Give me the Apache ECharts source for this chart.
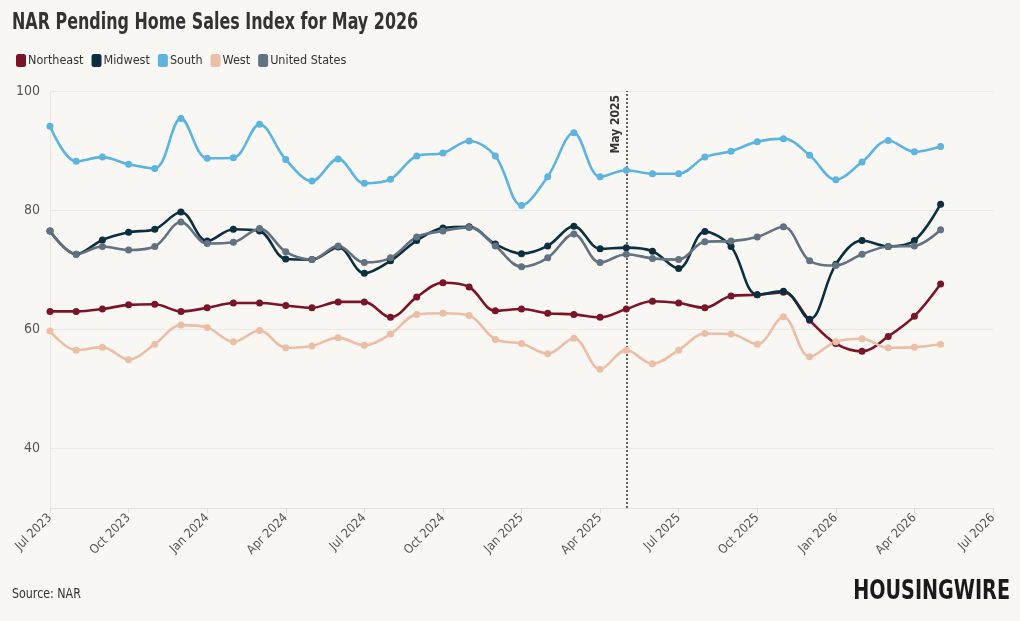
<!DOCTYPE html>
<html>
<head>
<meta charset="utf-8">
<script src="https://cdn.jsdelivr.net/npm/echarts@6/dist/echarts.min.js"></script>
<style>
  html, body { margin: 0; padding: 0; background: #f9f7f4; }
  #chart { width: 1020px; height: 621px; }
</style>
</head>
<body>
<div id="chart"></div>
<script>
// monthly points, Jul 2023 .. May 2026 (index 0 = Jul 2023)
const months = [
  "Jul 2023", "Aug 2023", "Sep 2023", "Oct 2023", "Nov 2023", "Dec 2023",
  "Jan 2024", "Feb 2024", "Mar 2024", "Apr 2024", "May 2024", "Jun 2024",
  "Jul 2024", "Aug 2024", "Sep 2024", "Oct 2024", "Nov 2024", "Dec 2024",
  "Jan 2025", "Feb 2025", "Mar 2025", "Apr 2025", "May 2025", "Jun 2025",
  "Jul 2025", "Aug 2025", "Sep 2025", "Oct 2025", "Nov 2025", "Dec 2025",
  "Jan 2026", "Feb 2026", "Mar 2026", "Apr 2026", "May 2026"
];
const tickLabels = [
  "Jul 2023", "Oct 2023", "Jan 2024", "Apr 2024", "Jul 2024", "Oct 2024", "Jan 2025",
  "Apr 2025", "Jul 2025", "Oct 2025", "Jan 2026", "Apr 2026", "Jul 2026"
];

const northeast = [63.0, 63.0, 63.4, 64.1, 64.2, 63.0, 63.6, 64.4, 64.4, 64.0, 63.6, 64.6,
  64.6, 62.0, 65.4, 67.8, 67.1, 63.1, 63.4, 62.7, 62.5, 62.0, 63.4, 64.7,
  64.4, 63.6, 65.6, 65.8, 66.2, 61.5, 57.6, 56.3, 58.8, 62.2, 67.6];
const midwest = [76.5, 72.6, 75.0, 76.3, 76.8, 79.7, 74.8, 76.8, 76.5, 71.8, 71.7, 73.8,
  69.4, 71.5, 74.9, 77.0, 77.2, 74.3, 72.7, 74.0, 77.3, 73.5, 73.7, 73.1,
  70.2, 76.4, 73.9, 65.8, 66.4, 61.7, 70.9, 74.9, 73.9, 74.9, 81.0];
const south = [94.1, 88.2, 88.9, 87.7, 87.0, 95.4, 88.7, 88.8, 94.4, 88.5, 84.9, 88.6,
  84.5, 85.2, 89.1, 89.6, 91.6, 89.1, 80.8, 85.6, 93.0, 85.6, 86.7, 86.1,
  86.1, 88.9, 89.9, 91.5, 92.0, 89.2, 85.1, 88.1, 91.7, 89.8, 90.7];
const west = [59.7, 56.5, 57.0, 54.9, 57.5, 60.7, 60.3, 57.9, 59.8, 56.9, 57.2, 58.6,
  57.3, 59.2, 62.5, 62.7, 62.3, 58.3, 57.6, 55.9, 58.5, 53.3, 56.5, 54.2,
  56.5, 59.3, 59.2, 57.5, 62.1, 55.4, 57.9, 58.4, 56.9, 57.0, 57.5];
const unitedStates = [76.5, 72.6, 73.9, 73.3, 73.9, 78.0, 74.4, 74.6, 76.9, 73.0, 71.7, 74.0,
  71.2, 72.0, 75.5, 76.5, 77.1, 74.0, 70.5, 72.0, 76.0, 71.2, 72.6, 71.9,
  71.7, 74.7, 74.8, 75.5, 77.2, 71.5, 70.7, 72.6, 73.9, 74.0, 76.7];

const markerMonth = "May 2025";

const FONT = '"DejaVu Sans Condensed", "Liberation Sans Narrow", "Roboto", sans-serif';

const seriesDefs = [
  { name: "Northeast", data: northeast, color: "#7a1527" },
  { name: "Midwest", data: midwest, color: "#0c2f3f" },
  { name: "South", data: south, color: "#5cb4df" },
  { name: "West", data: west, color: "#ebbea6" },
  { name: "United States", data: unitedStates, color: "#627280" }
];

const chart = echarts.init(document.getElementById("chart"), null, { renderer: "canvas" });

const series = seriesDefs.map((s, i) => {
  const item = {
    name: s.name,
    type: "line",
    data: s.data.map((v, k) => [k, v]),
    smooth: 0.35,
    symbol: "circle",
    symbolSize: 7,
    lineStyle: { width: 2.6, color: s.color },
    itemStyle: { color: s.color },
    z: 5
  };
  if (i === 0) {
    item.markLine = {
      silent: true,
      symbol: "none",
      lineStyle: { type: [2, 2], color: "#333", width: 1.5 },
      label: {
        show: true,
        position: "insideEndTop",
        formatter: markerMonth,
        fontFamily: FONT,
        fontWeight: "bold",
        fontSize: 12,
        color: "#333",
        distance: 4
      },
      data: [{ xAxis: months.indexOf(markerMonth) }]
    };
  }
  return item;
});

chart.setOption({
  backgroundColor: "#f9f7f4",
  textStyle: { fontFamily: FONT },
  animation: false,
  legend: {
    left: 11,
    top: 49,
    icon: "roundRect",
    itemWidth: 10,
    itemHeight: 13,
    itemGap: 8,
    textStyle: { fontFamily: FONT, fontSize: 12.5, color: "#333", padding: [0, 0, 0, -3] },
    data: seriesDefs.map((s) => s.name)
  },
  grid: { left: 50, right: 27, top: 91, bottom: 113 },
  xAxis: {
    type: "value",
    min: 0,
    max: 36,
    interval: 3,
    axisLine: { show: true, lineStyle: { color: "#e6e3de" } },
    axisTick: { show: true, length: 5, lineStyle: { color: "#dedad4" } },
    splitLine: { show: false },
    axisLabel: {
      rotate: 45,
      fontFamily: FONT,
      fontSize: 12.5,
      color: "#555",
      margin: 8,
      formatter: (v) => tickLabels[v / 3] || ""
    }
  },
  yAxis: {
    type: "value",
    min: 30,
    max: 100,
    interval: 10,
    axisLine: { show: true, lineStyle: { color: "#ebe8e3" } },
    axisTick: { show: false },
    splitLine: { show: true, lineStyle: { color: ["rgba(0,0,0,0)", "#ebe8e3"], width: 1 } },
    axisLabel: {
      fontFamily: FONT,
      fontSize: 14,
      color: "#555",
      margin: 10,
      formatter: (v) => (v % 20 === 0 ? String(v) : "")
    }
  },
  graphic: [
    {
      type: "text",
      x: 12,
      y: 12,
      scaleX: 0.77,
      style: {
        text: "NAR Pending Home Sales Index for May 2026",
        font: 'bold 23px ' + FONT,
        fill: "#333",
        textVerticalAlign: "top"
      }
    },
    {
      type: "text",
      x: 12,
      y: 587,
      scaleX: 0.88,
      style: { text: "Source: NAR", font: '14px ' + FONT, fill: "#333", textVerticalAlign: "top" }
    },
    {
      type: "text",
      x: 1010,
      y: 579,
      scaleX: 0.82,
      style: {
        text: "HOUSINGWIRE",
        font: '900 26px ' + FONT,
        fill: "#1a1a1a",
        textAlign: "right",
        textVerticalAlign: "top"
      }
    }
  ],
  series: series
});
</script>
</body>
</html>
